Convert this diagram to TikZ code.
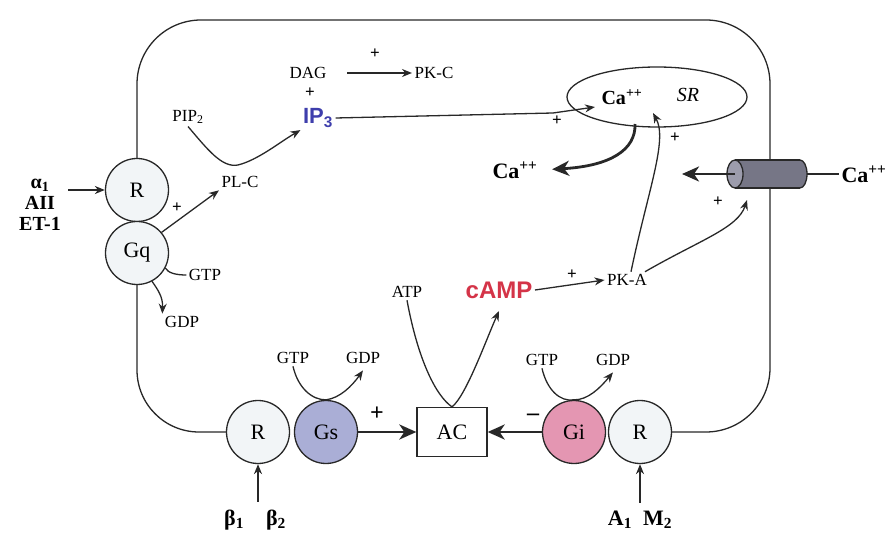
\documentclass[tikz,border=0pt]{standalone}
\usepackage{fontspec}
\setmainfont{Liberation Serif}
\setsansfont{Liberation Sans}
\usetikzlibrary{arrows.meta, shapes.geometric}

\definecolor{gsblue}{RGB}{170,174,214}
\definecolor{gipink}{RGB}{228,150,178}
\definecolor{rwhite}{RGB}{242,245,247}
\definecolor{chan}{RGB}{118,118,134}
\definecolor{chancap}{RGB}{156,156,172}
\definecolor{camp}{RGB}{212,52,72}
\definecolor{ipblue}{RGB}{62,62,172}
\definecolor{ink}{RGB}{40,40,40}

\newcommand{\fs}[1]{\fontsize{#1}{#1}\selectfont}

\begin{document}
\begin{tikzpicture}[x=1pt, y=-1pt, line width=1.3pt, draw=ink,
    circ/.style={circle, draw, fill=rwhite, minimum size=63pt, inner sep=0pt, font=\fs{22}},
    lbl/.style={inner sep=2pt, font=\fs{17}},
    big/.style={inner sep=2pt, font=\fs{22}\bfseries},
    pl/.style={inner sep=0pt, font=\fs{17}\bfseries},
    sm/.style={-{Stealth[length=10pt, width=8pt]}},
    fat/.style={line width=2.8pt, -{Stealth[length=17pt, width=15pt, inset=5pt]}}]
    \useasboundingbox (0,0) rectangle (889,534);

    % receptors and G proteins
    \node[circ] (Rq) at (137,190) {R};
    \node[circ] (Gq) at (137,253) {Gq};
    \node[circ] (Rs) at (258,432) {R};
    \node[circ, fill=gsblue] (Gs) at (326,432) {Gs};
    \node[draw, fill=white, minimum width=70pt, minimum height=49pt, font=\fs{22}] (AC) at (452,432) {AC};
    \node[circ, fill=gipink] (Gi) at (574,432) {Gi};
    \node[circ] (Ri) at (640,432) {R};

    % cell membrane
    \draw[rounded corners=64pt] (Rq.north) |- (770,20) |- (Ri.east);
    \draw[rounded corners=62pt] (Gq.south) |- (Rs.west);

    % SR
    \node[draw, ellipse, minimum width=180pt, minimum height=60pt] (SR) at (657,97) {};
    \node[big, font=\fs{20}\bfseries] (CaSR) at (622,97) {Ca\textsuperscript{++}};
    \node[inner sep=2pt, font=\fs{20}\itshape] (SRt) at (688,95) {SR};
    \node[big] (CaIn) at (515,170) {Ca\textsuperscript{++}};

    % channel
    \coordinate (chL) at (735,174);
    \coordinate (chR) at (807,174);
    \coordinate (chIn) at (682,174);
    \draw[fill=chan] (800,174) ellipse [x radius=7, y radius=14];
    \fill[chan] (735,160) rectangle (800,188);
    \draw (735,160) -- (800,160);
    \draw (735,188) -- (800,188);
    \draw[fill=chancap] (chL) ellipse [x radius=8, y radius=14];
    \node[big] (CaOut) at (864,174) {Ca\textsuperscript{++}};
    \draw (chR) -- (CaOut.west);
    \draw[fat] (chL) -- (chIn);

    % inputs
    \node[big, align=center, font=\fontsize{20}{21}\selectfont\bfseries] (alpha) at (40,205) {α\textsubscript{1}\\AII\\ET-1};
    \node[big, anchor=base] (beta) at (255,525) {β\textsubscript{1}\quad β\textsubscript{2}};
    \node[big, anchor=base] (am) at (640,525) {A\textsubscript{1}\enspace M\textsubscript{2}};
    \draw[sm] (68,190) -- (Rq.west);
    \draw[sm, shorten <=5pt] (beta.north -| Rs) -- (Rs.south);
    \draw[sm, shorten <=5pt] (am.north -| Ri) -- (Ri.south);

    % PL-C branch
    \node[lbl] (PIP) at (188,117) {PIP\textsubscript{2}};
    \node[lbl] (PLC) at (240,182) {PL-C};
    \node[lbl] (DAG) at (308,73) {DAG};
    \node[lbl] (PKC) at (434,73) {PK-C};
    \node[inner sep=2pt, font=\fs{22}\sffamily\bfseries, text=ipblue] (IP) at (318,118) {IP\textsubscript{3}};
    \draw[sm] (Gq.40) -- (PLC.south west);
    \draw[sm] (PIP.south) .. controls (208,150) and (222,168) .. (238,165) .. controls (258,160) and (280,142) .. (IP.south west);
    \draw[sm, shorten <=18pt] (DAG.east) -- (PKC.west);
    \draw[sm] (IP.east) -- (553,113) -- (595,107);
    \node[lbl] (GTPq) at (205,275) {GTP};
    \node[lbl] (GDPq) at (182,322) {GDP};
    \draw (GTPq.west) .. controls (176,275) and (168,273) .. (Gq.-28);
    \draw[sm] (Gq.-62) .. controls (158,290) and (163,297) .. (GDPq.north west);

    % cAMP branch
    \node[lbl] (GTPs) at (293,358) {GTP};
    \node[lbl] (GDPs) at (363,358) {GDP};
    \node[lbl] (GTPi) at (542,360) {GTP};
    \node[lbl] (GDPi) at (613,360) {GDP};
    \draw[sm] (GTPs.south) .. controls (298,388) and (312,400) .. (Gs.north) .. controls (340,398) and (352,386) .. ([yshift=-4pt]GDPs.south);
    \draw[sm] (GTPi.south) .. controls (547,390) and (560,402) .. (Gi.north) .. controls (588,400) and (600,388) .. ([yshift=-4pt]GDPi.south);
    \draw[fat] (Gs.east) -- (AC.west);
    \draw[fat] (Gi.west) -- (AC.east);
    \node[lbl] (ATP) at (407,292) {ATP};
    \node[inner sep=2pt, font=\fs{24}\sffamily\bfseries, text=camp] (cAMP) at (499,290) {cAMP};
    \node[lbl] (PKA) at (627,280) {PK-A};
    \draw[sm] (ATP.south) .. controls (418,360) and (436,396) .. (AC.north) .. controls (466,396) and (486,340) .. ([yshift=-10pt]cAMP.south);
    \draw[sm] (cAMP.east) -- (PKA.west);
    \draw[sm] ([xshift=4pt]PKA.north) .. controls (648,190) and (668,140) .. (653,113);
    \draw[sm] ([xshift=18pt]PKA.north) .. controls (700,240) and (738,228) .. (747,200);
    \draw[fat, shorten >=12pt] (635,124) .. controls (636,150) and (610,166) .. (CaIn.east);

    % signs
    \node[pl] (p1) at (375,54) {+};
    \node[pl] (p2) at (310,93) {+};
    \node[pl] (p3) at (177,208) {+};
    \node[pl] (p4) at (557,121) {+};
    \node[pl] (p5) at (675,138) {+};
    \node[pl] (p6) at (718,202) {+};
    \node[pl] (p7) at (572,275) {+};
    \node[pl, font=\fs{24}\bfseries] (p8) at (377,414) {+};
    \node[pl, font=\fs{24}\bfseries] (m1) at (533,417) {\textendash};
\end{tikzpicture}
\end{document}
